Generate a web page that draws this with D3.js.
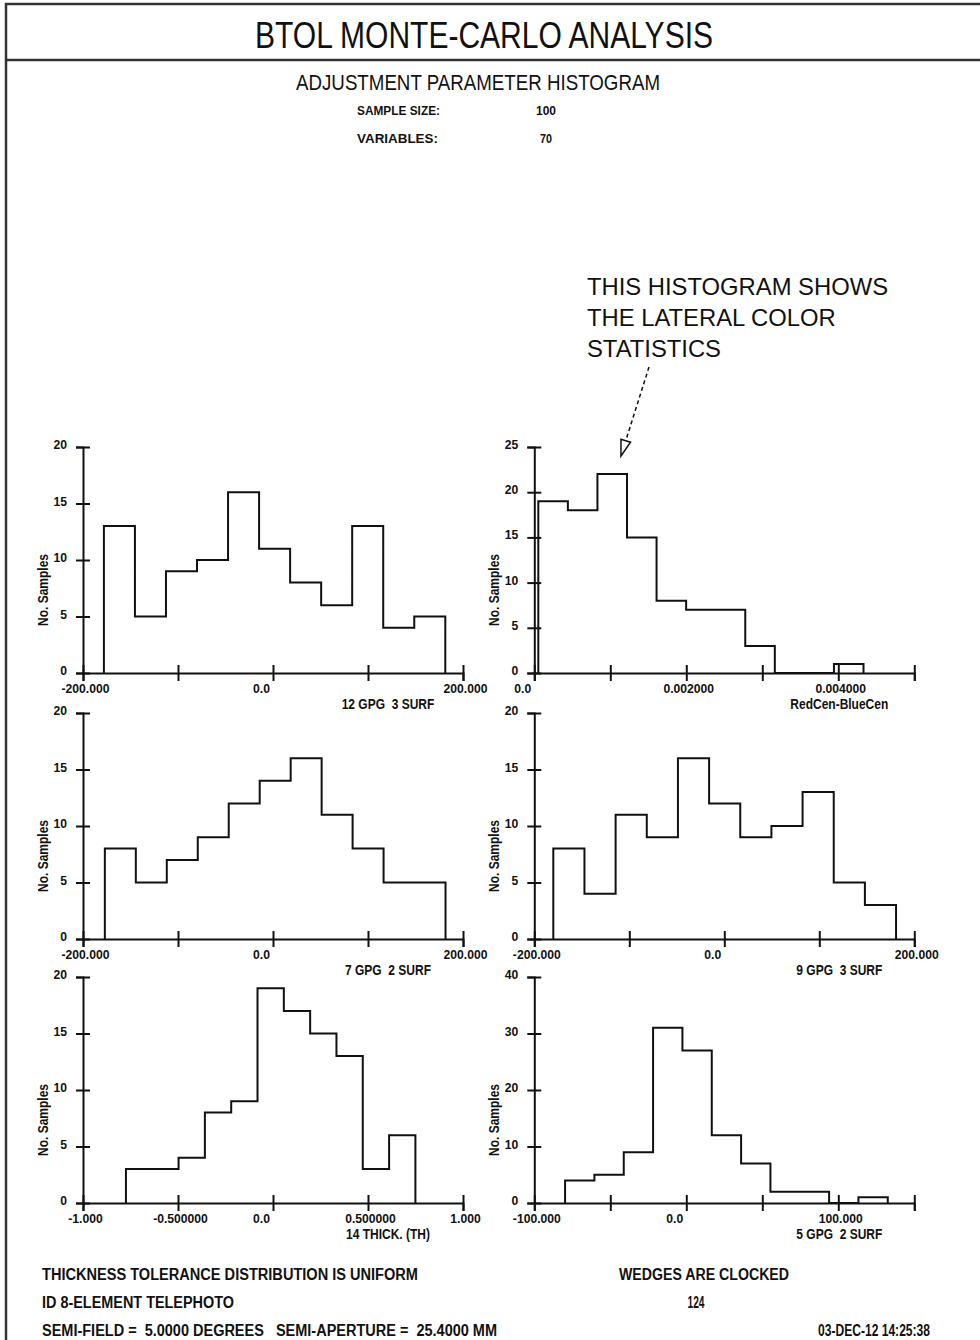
<!DOCTYPE html>
<html><head><meta charset="utf-8">
<script src="https://cdn.jsdelivr.net/npm/d3@7"></script>
<style>
body{margin:0;background:#fff;}
svg{display:block;}
text{font-family:"Liberation Sans", Arial, sans-serif; fill:#111;}
</style></head><body>
<svg id="chart" width="980" height="1340"></svg>
<script>
// ---------- DATA ----------
const panelLabels = ["12 GPG  3 SURF", "RedCen-BlueCen", "7 GPG  2 SURF", "9 GPG  3 SURF", "14 THICK. (TH)", "5 GPG  2 SURF"];
const countsGpg12s3 = [13, 5, 9, 10, 16, 11, 8, 6, 13, 4, 5];
const countsLatColor = [19, 18, 22, 15, 8, 7, 7, 3, 0, 0, 1];
const countsGpg7s2  = [8, 5, 7, 9, 12, 14, 16, 11, 8, 5, 5];
const countsGpg9s3  = [8, 4, 11, 9, 16, 12, 9, 10, 13, 5, 3];
const countsThick14 = [3, 3, 4, 8, 9, 19, 17, 15, 13, 3, 6];
const countsGpg5s2  = [4, 5, 9, 31, 27, 12, 7, 2, 2, 0, 1];
const binStarts = [-178, 0.0000528, -177, -180, -0.774, -79.75];
const binWidths = [32.67, 0.000389, 32.6, 32.8, 0.1385, 19.3];
const xDomains = [[-200, 200], [0, 0.005], [-200, 200], [-200, 200], [-1, 1], [-100, 150]];
const yMaxes = [20, 25, 20, 20, 20, 40];
const yTickSteps = [5, 5, 5, 5, 5, 10];
const xTickValues = [
  [-200, -100, 0, 100, 200],
  [0, 0.001, 0.002, 0.003, 0.004, 0.005],
  [-200, -100, 0, 100, 200],
  [-200, -100, 0, 100, 200],
  [-1, -0.5, 0, 0.5, 1],
  [-100, -50, 0, 50, 100, 150]
];
const xTickLabels = [
  ["-200.000", "", "0.0", "", "200.000"],
  ["0.0", "", "0.002000", "", "0.004000", ""],
  ["-200.000", "", "0.0", "", "200.000"],
  ["-200.000", "", "0.0", "", "200.000"],
  ["-1.000", "-0.500000", "0.0", "0.500000", "1.000"],
  ["-100.000", "", "0.0", "", "100.000", ""]
];
const allCounts = [countsGpg12s3, countsLatColor, countsGpg7s2, countsGpg9s3, countsThick14, countsGpg5s2];
const titleText = "BTOL MONTE-CARLO ANALYSIS";
const subtitleText = "ADJUSTMENT PARAMETER HISTOGRAM";
const infoKeys = ["SAMPLE SIZE:", "VARIABLES:"];
const infoValues = ["100", "70"];
const noteLines = ["THIS HISTOGRAM SHOWS", "THE LATERAL COLOR", "STATISTICS"];
const noteTarget = [0.00114, 24]; // in panel 2 data units
const footLeft = ["THICKNESS TOLERANCE DISTRIBUTION IS UNIFORM", "ID 8-ELEMENT TELEPHOTO", "SEMI-FIELD =  5.0000 DEGREES   SEMI-APERTURE =  25.4000 MM"];
const footRight = ["WEDGES ARE CLOCKED", "124", "03-DEC-12 14:25:38"];

// ---------- LAYOUT ----------
const svg = d3.select("#chart");
const ink = "#111";
const colX = [83, 534.3];
const rowY = [447, 713, 977];
const pw = 380, ph = 226;

// text fitted to a width (condensed look of the original plotter font)
function fitText(x, y, str, size, width, anchor, bold) {
  const t = svg.append("text").attr("x", x).attr("y", y)
    .attr("text-anchor", anchor || "start").attr("xml:space", "preserve")
    .style("font-size", size + "px").style("font-weight", bold ? "bold" : "normal").text(str);
  t.attr("textLength", width).attr("lengthAdjust", "spacingAndGlyphs");
  return t;
}

svg.append("rect").attr("x", 6).attr("y", 4).attr("width", 1000).attr("height", 1400)
  .attr("fill", "none").attr("stroke", "#333").attr("stroke-width", 2.5);
svg.append("line").attr("x1", 6).attr("x2", 990).attr("y1", 60).attr("y2", 60)
  .attr("stroke", "#333").attr("stroke-width", 2.5);

fitText(484, 48, titleText, 36, 458, "middle", false);
fitText(478, 90, subtitleText, 22, 364, "middle", false);
fitText(357, 115, infoKeys[0], 13.5, 83, "start", true);
fitText(357, 143, infoKeys[1], 13.5, 81, "start", true);
fitText(546, 115, infoValues[0], 13.5, 20, "middle", true);
fitText(546, 143, infoValues[1], 13.5, 12, "middle", true);

let scalesP2 = null;
allCounts.forEach((counts, p) => {
  const col = p % 2, row = Math.floor(p / 2);
  const g = svg.append("g").attr("transform", `translate(${colX[col]},${rowY[row]})`);
  const x = d3.scaleLinear().domain(xDomains[p]).range([0, pw]);
  const y = d3.scaleLinear().domain([0, yMaxes[p]]).range([ph, 0]);
  if (p === 1) scalesP2 = {x, y};

  const pts = [[binStarts[p], 0]];
  counts.forEach((c, i) => {
    const e0 = binStarts[p] + i * binWidths[p];
    pts.push([e0, c], [e0 + binWidths[p], c]);
  });
  pts.push([binStarts[p] + counts.length * binWidths[p], 0]);
  g.append("path").attr("d", d3.line().x(d => x(d[0])).y(d => y(d[1]))(pts))
    .attr("fill", "none").attr("stroke", ink).attr("stroke-width", 2);

  const xa = g.append("g").attr("transform", `translate(0,${ph})`)
    .call(d3.axisBottom(x).tickValues(xTickValues[p]).tickSizeOuter(0).tickSize(8)
      .tickFormat((d, i) => xTickLabels[p][i]));
  xa.attr("font-family", null).attr("font-size", null);
  xa.select(".domain").attr("stroke", ink).attr("stroke-width", 2);
  xa.selectAll(".tick line").attr("y1", -8).attr("y2", 8).attr("stroke", ink).attr("stroke-width", 2);
  xa.selectAll(".tick text").attr("x", 0).attr("y", 0).attr("dy", null).attr("fill", ink)
    .attr("transform", function() {
      const dx = d3.select(this).text() === "0.0" ? -12 : 2;
      return `translate(${dx},20) scale(0.9,1)`;
    })
    .style("font-size", "13.5px").style("font-weight", "bold");

  const ya = g.append("g")
    .call(d3.axisLeft(y).tickValues(d3.range(0, yMaxes[p] + 0.001, yTickSteps[p])).tickSizeOuter(0).tickSize(7));
  ya.attr("font-family", null).attr("font-size", null);
  ya.select(".domain").attr("stroke", ink).attr("stroke-width", 2);
  ya.selectAll(".tick line").attr("x1", -7).attr("x2", 7).attr("stroke", ink).attr("stroke-width", 2);
  ya.selectAll(".tick text").attr("x", 0).attr("y", 0).attr("dy", null).attr("fill", ink)
    .attr("transform", "translate(-16,1.5) scale(0.9,1)")
    .style("font-size", "13.5px").style("font-weight", "bold");

  g.append("text").attr("transform", `translate(-35,143) rotate(-90) scale(0.8,1)`)
    .attr("text-anchor", "middle").style("font-size", "15px").style("font-weight", "bold").text("No. Samples");
  g.append("text").attr("transform", `translate(305,${ph + 35.5}) scale(0.8,1)`).attr("text-anchor", "middle")
    .attr("xml:space", "preserve").style("font-size", "15px").style("font-weight", "bold").text(panelLabels[p]);
});

noteLines.forEach((t, i) => {
  svg.append("text").attr("x", 587).attr("y", 294.5 + i * 31).style("font-size", "23.8px").text(t);
});
const tipX = colX[1] + scalesP2.x(noteTarget[0]);
const tipY = rowY[0] + scalesP2.y(noteTarget[1]);
const sx = 649, sy = 367;
const dxv = tipX - sx, dyv = tipY - sy, len = Math.hypot(dxv, dyv);
const ux = dxv / len, uy = dyv / len;
const headL = 16, headW = 5;
const bx = tipX - ux * headL, by = tipY - uy * headL;
svg.append("line").attr("x1", sx).attr("y1", sy).attr("x2", bx).attr("y2", by)
  .attr("stroke", ink).attr("stroke-width", 1.5).attr("stroke-dasharray", "4,3");
svg.append("path").attr("d", `M${tipX},${tipY}L${bx - uy * headW},${by + ux * headW}L${bx + uy * headW},${by - ux * headW}Z`)
  .attr("fill", "#fff").attr("stroke", ink).attr("stroke-width", 1.5);

const footW = [376, 192, 455];
footLeft.forEach((t, i) => fitText(42, 1280 + i * 28, t, 16, footW[i], "start", true));
fitText(704, 1280, footRight[0], 16, 170, "middle", true);
fitText(696, 1308, footRight[1], 16, 17, "middle", true);
fitText(818, 1336, footRight[2], 16, 112, "start", true);
</script>
</body></html>
